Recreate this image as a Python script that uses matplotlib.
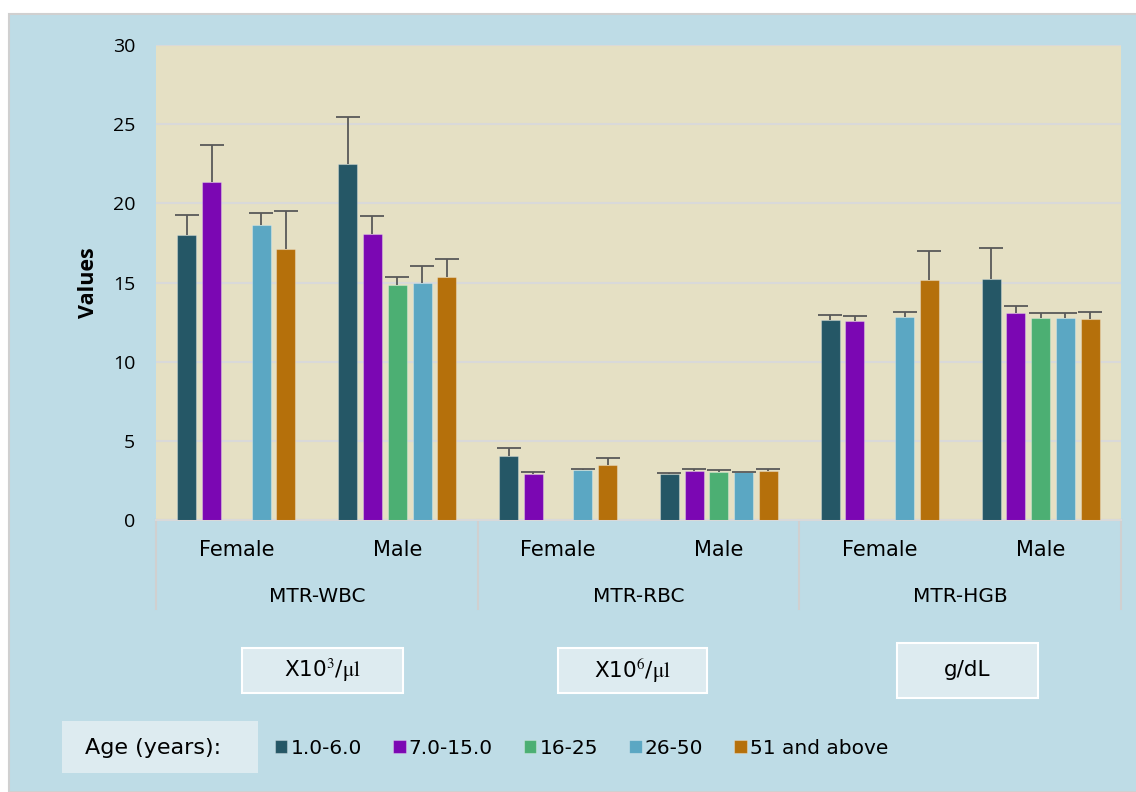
import numpy as np
import matplotlib
matplotlib.use('Agg')
import matplotlib.pyplot as plt
from matplotlib.patches import Rectangle
from matplotlib.transforms import blended_transform_factory

# categorias
pruebas = ['MTR-WBC', 'MTR-RBC', 'MTR-HGB']
sexos = ['Female', 'Male']
unidades = [r'X10$^\mathrm{3}$/$\mathrm{\mu l}$', r'X10$^\mathrm{6}$/$\mathrm{\mu l}$', 'g/dL']
edades = ['1.0-6.0', '7.0-15.0', '16-25', '26-50', '51 and above']
colores = ['#255766', '#7B07B3', '#4CAF73', '#5BA7C3', '#B5700B']

# medias por grupo de edad (WBC F, WBC M, RBC F, RBC M, HGB F, HGB M)
media_1_6 = [18.0, 22.5, 4.04, 2.93, 12.63, 15.22]
media_7_15 = [21.37, 18.07, 2.91, 3.12, 12.57, 13.08]
media_16_25 = [np.nan, 14.85, np.nan, 3.01, np.nan, 12.74]
media_26_50 = [18.65, 14.99, 3.14, 3.01, 12.82, 12.74]
media_51 = [17.12, 15.35, 3.45, 3.07, 15.16, 12.70]

# desviacion estandar (solo barra superior)
de_1_6 = [1.27, 2.98, 0.49, 0.06, 0.32, 1.98]
de_7_15 = [2.33, 1.15, 0.10, 0.12, 0.32, 0.44]
de_16_25 = [np.nan, 0.48, np.nan, 0.15, np.nan, 0.36]
de_26_50 = [0.74, 1.03, 0.10, 0.04, 0.34, 0.36]
de_51 = [2.40, 1.14, 0.47, 0.13, 1.85, 0.46]

medias = [media_1_6, media_7_15, media_16_25, media_26_50, media_51]
desvios = [de_1_6, de_7_15, de_16_25, de_26_50, de_51]

# figura
fondo = '#BEDCE6'
fig = plt.figure(figsize=(11.36, 7.92), dpi=100, facecolor='white')
fig.patches.append(Rectangle((9/1136, 0), 1, 1 - 14/792, transform=fig.transFigure,
                             facecolor=fondo, edgecolor='#D0D0D0', lw=1.5, zorder=-10))

ax = fig.add_axes([156/1136, 1 - 520/792, 965/1136, 475/792])
ax.set_facecolor('#E5E0C4')

x = np.arange(len(pruebas) * len(sexos))
paso = 0.154
ancho = 0.118
barras = []
for i in range(len(edades)):
    xi = x + (i - 2) * paso
    m = np.array(medias[i])
    d = np.array(desvios[i])
    b = ax.bar(xi, m, ancho, color=colores[i], edgecolor=(1, 1, 1, 0.3),
               linewidth=0.8, label=edades[i], zorder=3)
    barras.append(b)
    eb = ax.errorbar(xi, m, yerr=[np.zeros_like(d), d], fmt='none', ecolor='#595959',
                     elinewidth=1.3, capsize=8.5, capthick=1.3, zorder=4)
    # sin tapa inferior
    eb[1][0].set_visible(False)

ax.set_xlim(-0.5, 5.5)
ax.set_ylim(0, 30)
ax.set_yticks(np.arange(0, 31, 5))
ax.set_axisbelow(True)
ax.yaxis.grid(True, color='#D9D9D9', lw=1.5)
for lado in ['top', 'right', 'left']:
    ax.spines[lado].set_visible(False)
ax.spines['bottom'].set_color('#D9D9D9')
ax.spines['bottom'].set_linewidth(1.5)
ax.tick_params(axis='y', length=0, pad=15, labelsize=14)
for t in ax.get_yticklabels():
    t.set_fontfamily('Open Sans')
ax.set_xticks([])
ax.set_ylabel('Values', fontsize=15.5, fontweight='bold', fontfamily='Open Sans')
ax.yaxis.set_label_coords(-0.059, 0.5)

# eje de categorias en dos niveles
trans = blended_transform_factory(ax.transData, ax.transAxes)
for k in range(len(x)):
    ax.text(x[k], -0.063, sexos[k % 2], transform=trans, ha='center', va='center',
            fontsize=15, fontfamily='DejaVu Sans')
for g in range(len(pruebas)):
    ax.text(2 * g + 0.5, -0.16, pruebas[g], transform=trans, ha='center',
            va='center', fontsize=14.5, fontfamily='DejaVu Sans')
for xs in [-0.5, 1.5, 3.5, 5.5]:
    ax.plot([xs, xs], [0, -0.187], transform=trans, color='#D0D0D0', lw=1.5,
            clip_on=False)

# cajas de unidades
cajas = [(242, 648, 161, 45), (558, 648, 149, 45), (897, 643, 141, 55)]
for (cx, cy, cw, ch), u in zip(cajas, unidades):
    fig.patches.append(Rectangle((cx/1136, 1 - (cy + ch)/792), cw/1136, ch/792,
                                 transform=fig.transFigure, facecolor='#DDEBF0',
                                 edgecolor='white', lw=1.5))
    fig.text((cx + cw/2)/1136, 1 - (cy + ch/2)/792, u, ha='center', va='center',
             fontsize=15.5, fontfamily='DejaVu Sans', math_fontfamily='stix')

# leyenda
fig.patches.append(Rectangle((62/1136, 1 - 773/792), 196/1136, 52/792,
                             transform=fig.transFigure, facecolor='#DDEBF0',
                             edgecolor='none'))
fig.text(153/1136, 1 - 748/792, 'Age (years):', ha='center', va='center',
         fontsize=16, fontfamily='DejaVu Sans')
fig.legend(handles=barras, loc='center left', bbox_to_anchor=(275/1136, 1 - 748/792),
           ncol=5, frameon=False, prop={'family': 'DejaVu Sans', 'size': 14.5},
           handlelength=0.62, handleheight=0.62, handletextpad=0.15,
           columnspacing=1.55, borderpad=0, borderaxespad=0)

plt.savefig('out.png', dpi=100, facecolor=fig.get_facecolor())
